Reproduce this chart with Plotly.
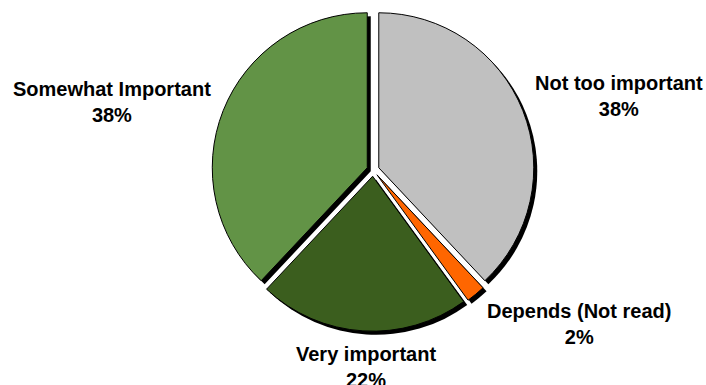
import plotly.graph_objects as go

# Survey responses (percent), clockwise from 12 o'clock
labels = ["Not too important", "Depends (Not read)", "Very important", "Somewhat Important"]
values = [38, 2, 22, 38]
colors = ["#C0C0C0", "#FF6600", "#3B5E1E", "#629346"]

# Label block centres in paper coordinates (x, y)
label_pos = [(0.877, 0.751), (0.820, 0.158), (0.518, 0.047), (0.158, 0.735)]

W, H = 706, 385
pull = 0.04
dom_x = [0.300, 0.7567]
dom_y = [0.1397, 0.977]
shadow_dx, shadow_dy = 3.5 / W, 3.5 / H

fig = go.Figure()

# Drop shadow drawn underneath the slices
fig.add_trace(go.Pie(
    labels=labels, values=values, sort=False, direction="clockwise", rotation=0,
    pull=[pull] * len(values),
    marker=dict(colors=["#000000"] * len(values), line=dict(color="#000000", width=0)),
    textinfo="none", hoverinfo="skip", showlegend=False,
    domain=dict(x=[dom_x[0] + shadow_dx, dom_x[1] + shadow_dx],
                y=[dom_y[0] - shadow_dy, dom_y[1] - shadow_dy]),
))

fig.add_trace(go.Pie(
    labels=labels, values=values, sort=False, direction="clockwise", rotation=0,
    pull=[pull] * len(values),
    marker=dict(colors=colors, line=dict(color="#000000", width=1)),
    textinfo="none", hoverinfo="label+percent", showlegend=False,
    domain=dict(x=dom_x, y=dom_y),
))

total = sum(values)
for lab, val, (px, py) in zip(labels, values, label_pos):
    fig.add_annotation(
        x=px, y=py, xref="paper", yref="paper",
        text=f"{lab}<br>{round(100 * val / total)}%",
        showarrow=False, xanchor="center", yanchor="middle", align="center",
        font=dict(family="Liberation Sans, Arial, sans-serif", size=20, color="#000000", weight="bold"),
    )

fig.update_layout(
    width=W, height=H,
    margin=dict(l=0, r=0, t=0, b=0),
    paper_bgcolor="#FFFFFF", plot_bgcolor="#FFFFFF",
    showlegend=False,
)

fig.write_html("out.html")
